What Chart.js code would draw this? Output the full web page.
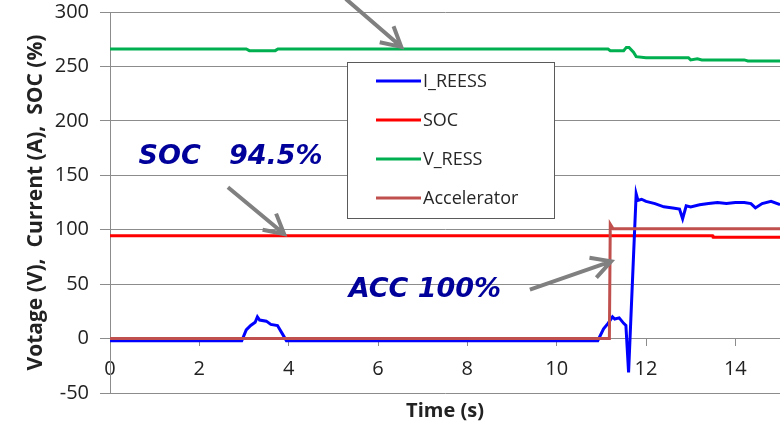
<!DOCTYPE html>
<html>
<head>
<meta charset="utf-8">
<script src="https://cdn.jsdelivr.net/npm/chart.js@4.4.1/dist/chart.umd.min.js"></script>
<style>
  html, body { margin: 0; padding: 0; background: #fff; }
</style>
</head>
<body>
<canvas id="chart" width="780" height="429"></canvas>
<script>
// I_REESS current (A)
const iTime = [0, 2.95, 3.05, 3.15, 3.25, 3.3, 3.35, 3.5, 3.6, 3.75, 3.85, 3.95, 10.92, 11.05, 11.15, 11.25, 11.3, 11.4, 11.5, 11.55, 11.61, 11.78, 11.82, 11.9, 12.0, 12.2, 12.4, 12.6, 12.75, 12.82, 12.9, 13.0, 13.2, 13.4, 13.6, 13.8, 14.0, 14.2, 14.35, 14.45, 14.6, 14.8, 15];
const iValues = [-2, -2, 8, 12, 15, 20, 17, 16, 13, 12, 5, -2, -2, 9, 14, 20, 18, 19, 14, 12, -31, 133, 127, 128, 126, 124, 121, 120, 119, 110, 122, 121, 123, 124, 125, 124, 125, 125, 124, 120, 124, 126, 123];

// SOC (%)
const socTime = [0, 13.5, 13.5, 15];
const socValues = [94.5, 94.5, 93, 93];

// V_RESS voltage (V)
const vTime = [0, 3.05, 3.12, 3.7, 3.76, 11.15, 11.2, 11.5, 11.56, 11.62, 11.72, 11.78, 12.0, 12.95, 13.0, 13.15, 13.25, 14.2, 14.28, 15];
const vValues = [266, 266, 264.5, 264.5, 266, 266, 264.5, 264.5, 267.5, 267.5, 263, 259, 258, 258, 256, 257, 256, 256, 255, 255];

// Accelerator pedal (%)
const accTime = [0, 11.18, 11.2, 11.26, 15];
const accValues = [0, 0, 105, 101, 101];

// callouts, in data units
const notes = [
  { text: 'SOC   94.5%', x: 2.7, y: 167 },
  { text: 'ACC 100%', x: 7.05, y: 45 }
];
const arrows = [
  { from: [2.64, 139], to: [3.9, 96] },
  { from: [5.28, 312], to: [6.52, 268] },
  { from: [9.4, 45], to: [11.22, 71] }
];

const toPoints = (xs, ys) => xs.map((x, i) => ({ x: x, y: ys[i] }));

function drawArrow(ctx, x1, y1, x2, y2) {
  const ang = Math.atan2(y2 - y1, x2 - x1);
  const head = 22;
  const spread = 0.5;
  ctx.beginPath();
  ctx.moveTo(x1, y1);
  ctx.lineTo(x2, y2);
  ctx.moveTo(x2 - head * Math.cos(ang - spread), y2 - head * Math.sin(ang - spread));
  ctx.lineTo(x2, y2);
  ctx.lineTo(x2 - head * Math.cos(ang + spread), y2 - head * Math.sin(ang + spread));
  ctx.stroke();
}

const callouts = {
  id: 'callouts',
  afterDraw(chart) {
    const ctx = chart.ctx;
    const xs = chart.scales.x;
    const ys = chart.scales.y;
    ctx.save();

    // legend box
    const box = { left: 347, top: 62, right: 554, bottom: 218 };
    ctx.fillStyle = '#ffffff';
    ctx.fillRect(box.left, box.top, box.right - box.left, box.bottom - box.top);
    ctx.strokeStyle = '#5a5a5a';
    ctx.lineWidth = 1;
    ctx.strokeRect(box.left + 0.5, box.top + 0.5, box.right - box.left, box.bottom - box.top);
    ctx.font = '18px "Open Sans"';
    ctx.textBaseline = 'middle';
    ctx.textAlign = 'left';
    chart.data.datasets.forEach((ds, i) => {
      const y = 81 + i * 39;
      ctx.strokeStyle = ds.borderColor;
      ctx.lineWidth = 3;
      ctx.beginPath();
      ctx.moveTo(376, y);
      ctx.lineTo(421, y);
      ctx.stroke();
      ctx.fillStyle = '#262626';
      ctx.fillText(ds.label, 423, y + 1);
    });

    // arrows
    ctx.strokeStyle = '#808080';
    ctx.lineWidth = 4;
    ctx.lineCap = 'butt';
    ctx.lineJoin = 'miter';
    arrows.forEach(a => {
      drawArrow(ctx,
        xs.getPixelForValue(a.from[0]), ys.getPixelForValue(a.from[1]),
        xs.getPixelForValue(a.to[0]), ys.getPixelForValue(a.to[1]));
    });

    // labels
    ctx.font = 'italic bold 27px "DejaVu Sans"';
    ctx.fillStyle = '#00009a';
    ctx.textAlign = 'center';
    ctx.textBaseline = 'middle';
    notes.forEach(n => {
      ctx.fillText(n.text, xs.getPixelForValue(n.x), ys.getPixelForValue(n.y));
    });
    ctx.restore();
  }
};

const gridColor = '#8c8c8c';
const tickFont = { family: '"Open Sans"', size: 20 };

new Chart(document.getElementById('chart'), {
  type: 'line',
  data: {
    datasets: [
      { label: 'I_REESS', data: toPoints(iTime, iValues), borderColor: '#0000ff', order: 1 },
      { label: 'SOC', data: toPoints(socTime, socValues), borderColor: '#ff0000', order: 2, borderJoinStyle: 'round' },
      { label: 'V_RESS', data: toPoints(vTime, vValues), borderColor: '#00b050', order: 3 },
      { label: 'Accelerator', data: toPoints(accTime, accValues), borderColor: '#c0504d', order: 0 }
    ]
  },
  options: {
    responsive: false,
    animation: false,
    devicePixelRatio: 1,
    layout: { padding: 0 },
    elements: {
      line: { borderWidth: 3, tension: 0, fill: false },
      point: { radius: 0 }
    },
    plugins: {
      legend: { display: false },
      tooltip: { enabled: false }
    },
    scales: {
      x: {
        type: 'linear',
        position: { y: 0 },
        min: 0,
        max: 15,
        ticks: { stepSize: 2, includeBounds: false, font: tickFont, color: '#222', padding: 12, maxRotation: 0 },
        grid: { drawOnChartArea: false, drawTicks: true, tickLength: 7, color: gridColor },
        border: { color: gridColor }
      },
      x2: {
        type: 'linear',
        position: 'bottom',
        ticks: { display: false },
        grid: { display: false },
        border: { display: false },
        title: {
          display: true,
          text: 'Time (s)',
          color: '#222',
          font: { family: '"Open Sans"', size: 20, weight: 'bold' },
          padding: { top: 0, bottom: 6 }
        },
        afterFit: (s) => { s.height = 36; }
      },
      y: {
        min: -50,
        max: 300,
        ticks: { stepSize: 50, font: tickFont, color: '#222', padding: 11 },
        grid: { color: gridColor, tickLength: 10 },
        border: { color: gridColor },
        title: {
          display: true,
          text: 'Votage (V),  Current (A),  SOC (%)',
          color: '#222',
          font: { family: '"Open Sans"', size: 21, weight: 'bold' },
          padding: { top: 23, bottom: 0 }
        },
        afterFit: (s) => { s.width = 110; s.paddingTop = 12; s.paddingBottom = 0; }
      }
    }
  },
  plugins: [callouts]
});
</script>
</body>
</html>
